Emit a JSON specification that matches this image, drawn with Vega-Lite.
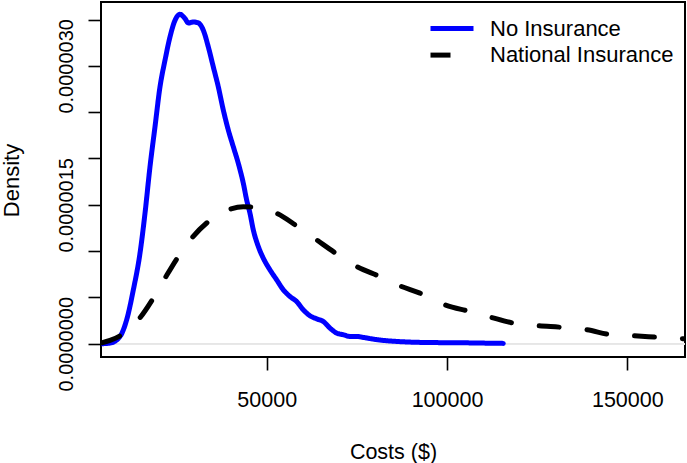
{
  "$schema": "https://vega.github.io/schema/vega-lite/v6.json",
  "width": 584,
  "height": 355,
  "autosize": {"type": "none"},
  "padding": {"left": 101, "top": 2, "right": 2, "bottom": 106},
  "background": "white",
  "config": {
    "view": {"stroke": "#000000", "strokeWidth": 2},
    "font": "Liberation Sans",
    "axis": {"domain": false, "grid": false, "tickColor": "#000000", "tickWidth": 1.6, "tickSize": 13, "labelColor": "#000000", "titleColor": "#000000", "labelFont": "Liberation Sans", "titleFont": "Liberation Sans", "titleFontWeight": "normal", "labelOverlap": false, "labelFlush": false, "labelBound": false},
    "legend": {"title": null, "orient": "none", "legendX": 340, "legendY": 15.5, "symbolType": "M-10.75,0H10.75", "symbolSize": 16, "symbolStrokeWidth": 5, "labelFontSize": 22, "labelFont": "Liberation Sans", "labelColor": "#000000", "labelOffset": 27, "labelLimit": 400, "rowPadding": 4.6, "padding": 0}
  },
  "data": {"values": [
    {"x": 4049, "y": 0, "series": "No Insurance"},
    {"x": 6544, "y": 0.0000000075, "series": "No Insurance"},
    {"x": 9317, "y": 0.000000079, "series": "No Insurance"},
    {"x": 11170, "y": 0.000000259, "series": "No Insurance"},
    {"x": 13020, "y": 0.000000582, "series": "No Insurance"},
    {"x": 14863, "y": 0.000000977, "series": "No Insurance"},
    {"x": 16250, "y": 0.000001408, "series": "No Insurance"},
    {"x": 17636, "y": 0.000001911, "series": "No Insurance"},
    {"x": 19023, "y": 0.000002342, "series": "No Insurance"},
    {"x": 20409, "y": 0.000002773, "series": "No Insurance"},
    {"x": 21796, "y": 0.00000306, "series": "No Insurance"},
    {"x": 23182, "y": 0.000003312, "series": "No Insurance"},
    {"x": 24569, "y": 0.000003491, "series": "No Insurance"},
    {"x": 25955, "y": 0.000003556, "series": "No Insurance"},
    {"x": 27342, "y": 0.00000351, "series": "No Insurance"},
    {"x": 28266, "y": 0.000003463, "series": "No Insurance"},
    {"x": 29652, "y": 0.000003473, "series": "No Insurance"},
    {"x": 31039, "y": 0.000003463, "series": "No Insurance"},
    {"x": 32425, "y": 0.000003384, "series": "No Insurance"},
    {"x": 33812, "y": 0.000003204, "series": "No Insurance"},
    {"x": 35198, "y": 0.000002988, "series": "No Insurance"},
    {"x": 36585, "y": 0.000002773, "series": "No Insurance"},
    {"x": 37971, "y": 0.000002522, "series": "No Insurance"},
    {"x": 39358, "y": 0.000002306, "series": "No Insurance"},
    {"x": 40744, "y": 0.000002126, "series": "No Insurance"},
    {"x": 42131, "y": 0.000001947, "series": "No Insurance"},
    {"x": 43517, "y": 0.000001732, "series": "No Insurance"},
    {"x": 44441, "y": 0.000001552, "series": "No Insurance"},
    {"x": 45366, "y": 0.000001408, "series": "No Insurance"},
    {"x": 46290, "y": 0.000001228, "series": "No Insurance"},
    {"x": 47677, "y": 0.000001049, "series": "No Insurance"},
    {"x": 49063, "y": 0.000000923, "series": "No Insurance"},
    {"x": 50912, "y": 0.000000797, "series": "No Insurance"},
    {"x": 52761, "y": 0.00000069, "series": "No Insurance"},
    {"x": 54609, "y": 0.000000582, "series": "No Insurance"},
    {"x": 56458, "y": 0.00000051, "series": "No Insurance"},
    {"x": 58306, "y": 0.000000456, "series": "No Insurance"},
    {"x": 60155, "y": 0.000000366, "series": "No Insurance"},
    {"x": 62004, "y": 0.000000302, "series": "No Insurance"},
    {"x": 63852, "y": 0.000000269, "series": "No Insurance"},
    {"x": 65701, "y": 0.00000024, "series": "No Insurance"},
    {"x": 67549, "y": 0.000000169, "series": "No Insurance"},
    {"x": 69398, "y": 0.000000115, "series": "No Insurance"},
    {"x": 71246, "y": 0.000000097, "series": "No Insurance"},
    {"x": 73095, "y": 0.000000079, "series": "No Insurance"},
    {"x": 74943, "y": 0.000000079, "series": "No Insurance"},
    {"x": 76792, "y": 0.000000068, "series": "No Insurance"},
    {"x": 79565, "y": 0.00000005, "series": "No Insurance"},
    {"x": 82338, "y": 0.000000036, "series": "No Insurance"},
    {"x": 86035, "y": 0.000000025, "series": "No Insurance"},
    {"x": 89732, "y": 0.000000018, "series": "No Insurance"},
    {"x": 93430, "y": 0.000000014, "series": "No Insurance"},
    {"x": 98050, "y": 0.000000012, "series": "No Insurance"},
    {"x": 105000, "y": 0.00000001, "series": "No Insurance"},
    {"x": 110000, "y": 0.000000007, "series": "No Insurance"},
    {"x": 115600, "y": 0.000000004, "series": "No Insurance"},
    {"x": 4049, "y": 0.0000000075, "series": "National Insurance"},
    {"x": 6544, "y": 0.000000036, "series": "National Insurance"},
    {"x": 9789, "y": 0.000000097, "series": "National Insurance"},
    {"x": 12090, "y": 0.000000172, "series": "National Insurance"},
    {"x": 14392, "y": 0.000000259, "series": "National Insurance"},
    {"x": 18551, "y": 0.000000492, "series": "National Insurance"},
    {"x": 21796, "y": 0.000000708, "series": "National Insurance"},
    {"x": 25484, "y": 0.000000941, "series": "National Insurance"},
    {"x": 29200, "y": 0.000001139, "series": "National Insurance"},
    {"x": 33803, "y": 0.000001318, "series": "National Insurance"},
    {"x": 39821, "y": 0.000001452, "series": "National Insurance"},
    {"x": 43509, "y": 0.00000148, "series": "National Insurance"},
    {"x": 46282, "y": 0.000001473, "series": "National Insurance"},
    {"x": 52771, "y": 0.000001408, "series": "National Insurance"},
    {"x": 58317, "y": 0.000001272, "series": "National Insurance"},
    {"x": 63863, "y": 0.000001121, "series": "National Insurance"},
    {"x": 69409, "y": 0.00000097, "series": "National Insurance"},
    {"x": 74955, "y": 0.000000833, "series": "National Insurance"},
    {"x": 81416, "y": 0.000000725, "series": "National Insurance"},
    {"x": 86962, "y": 0.000000625, "series": "National Insurance"},
    {"x": 92508, "y": 0.000000546, "series": "National Insurance"},
    {"x": 99441, "y": 0.00000042, "series": "National Insurance"},
    {"x": 106374, "y": 0.000000348, "series": "National Insurance"},
    {"x": 111920, "y": 0.000000288, "series": "National Insurance"},
    {"x": 119325, "y": 0.000000216, "series": "National Insurance"},
    {"x": 125314, "y": 0.000000194, "series": "National Insurance"},
    {"x": 132247, "y": 0.000000176, "series": "National Insurance"},
    {"x": 138736, "y": 0.000000151, "series": "National Insurance"},
    {"x": 145668, "y": 0.000000097, "series": "National Insurance"},
    {"x": 151658, "y": 0.000000086, "series": "National Insurance"},
    {"x": 159061, "y": 0.000000068, "series": "National Insurance"},
    {"x": 165522, "y": 0.000000054, "series": "National Insurance"},
    {"x": 172000, "y": 0.000000045, "series": "National Insurance"}
  ]},
  "layer": [
    {
      "mark": {"type": "rule", "color": "#e6e6e6", "strokeWidth": 1},
      "encoding": {"y": {"datum": 0, "type": "quantitative"}}
    },
    {
      "mark": {"type": "line", "strokeWidth": 5, "strokeCap": "round", "strokeJoin": "round", "interpolate": "monotone", "clip": true},
      "encoding": {
        "x": {"field": "x", "type": "quantitative", "scale": {"domain": [4050, 166000], "nice": false, "zero": false},
          "axis": {"values": [50000, 100000, 150000], "format": "d", "labelFontSize": 21.5, "labelPadding": 36, "labelBaseline": "alphabetic", "title": "Costs ($)", "titleFontSize": 21.5, "titleBaseline": "alphabetic", "titleY": 101}},
        "y": {"field": "y", "type": "quantitative", "scale": {"domain": [-0.000000143, 0.000003689], "nice": false, "zero": false},
          "axis": {"values": [0, 0.0000005, 0.000001, 0.0000015, 0.000002, 0.0000025, 0.000003, 0.0000035], "labelExpr": "abs(datum.value / 0.0000015 - round(datum.value / 0.0000015)) < 0.001 ? format(datum.value, '.7f') : ''", "labelFontSize": 20, "labelAngle": -90, "labelAlign": "center", "labelBaseline": "bottom", "labelPadding": 12, "title": "Density", "titleFontSize": 22, "titleBaseline": "alphabetic", "titleAngle": -90, "titleX": -83, "titleY": 178}},
        "color": {"field": "series", "type": "nominal", "sort": ["No Insurance", "National Insurance"], "scale": {"domain": ["No Insurance", "National Insurance"], "range": ["#0000ff", "#000000"]}, "legend": {}},
        "strokeDash": {"field": "series", "type": "nominal", "sort": ["No Insurance", "National Insurance"], "scale": {"domain": ["No Insurance", "National Insurance"], "range": [[1, 0], [20, 28]]}, "legend": {}}
      }
    }
  ]
}
